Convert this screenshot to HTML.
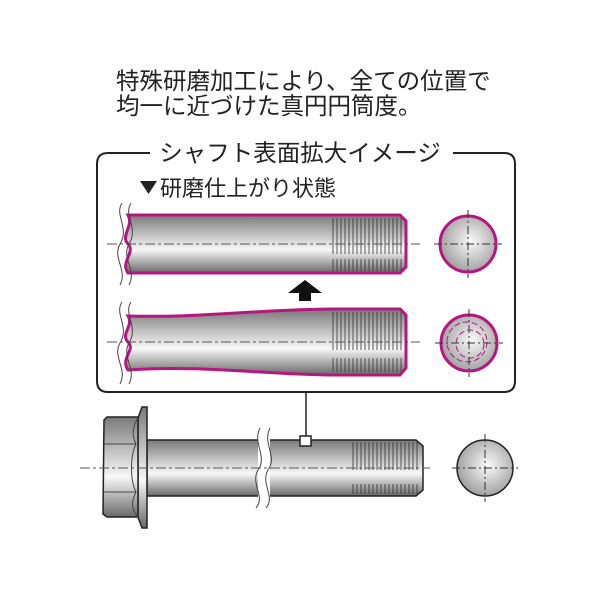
<!DOCTYPE html>
<html><head><meta charset="utf-8"><style>
html,body{margin:0;padding:0;background:#fff;width:600px;height:600px;overflow:hidden}
</style></head><body>
<svg width="600" height="600" viewBox="0 0 600 600" xmlns="http://www.w3.org/2000/svg">
<defs>
<linearGradient id="g" x1="0" y1="0" x2="0" y2="1">
<stop offset="0" stop-color="#7a7a7a"/><stop offset="0.6" stop-color="#f8f8f8"/><stop offset="1" stop-color="#686868"/>
</linearGradient>
<radialGradient id="rg" cx="0.55" cy="0.45" r="0.6">
<stop offset="0" stop-color="#fafafa"/><stop offset="1" stop-color="#9a9a9a"/>
</radialGradient>
</defs>
<g font-family="Liberation Sans, Noto Sans CJK JP, sans-serif" fill="#222">
<text x="116" y="89" font-size="23.5">特殊研磨加工により、全ての位置で</text>
<text x="116" y="114" font-size="23.5">均一に近づけた真円円筒度。</text>
</g>
<!-- frame -->
<path d="M150,153 H108 Q97,153 97,164 V381 Q97,392 108,392 H504 Q515,392 515,381 V164 Q515,153 504,153 H453" fill="none" stroke="#222" stroke-width="2"/>
<text x="300" y="161" font-size="23.5" text-anchor="middle" font-family="Liberation Sans, Noto Sans CJK JP, sans-serif" fill="#222">シャフト表面拡大イメージ</text>
<path d="M140,181 H157 L148.5,194 Z" fill="#222"/>
<text x="160" y="196" font-size="22" font-family="Liberation Sans, Noto Sans CJK JP, sans-serif" fill="#222">研磨仕上がり状態</text>

<!-- upper shaft -->
<path d="M128,215 H400 L406,221 V267 L400,273 H128 C120,262 136,252 128,244 C120,236 134,226 128,215 Z" fill="url(#g)" stroke="#b5177f" stroke-width="3"/>
<g stroke="#333" stroke-width="0.8">
<path d="M333,218 V254 M337,218 V254 M341,218 V254 M345,218 V254 M349,218 V254 M353,218 V254 M357,218 V254 M361,218 V254 M365,218 V254 M369,218 V254 M373,218 V254 M377,218 V254 M381,218 V254 M385,218 V254 M389,218 V254 M393,218 V254 M397,218 V254 M401,218 V254"/>
<path d="M333,259 V271 M337,259 V271 M341,259 V271 M345,259 V271 M349,259 V271 M353,259 V271 M357,259 V271 M361,259 V271 M365,259 V271 M369,259 V271 M373,259 V271 M377,259 V271 M381,259 V271 M385,259 V271 M389,259 V271 M393,259 V271 M397,259 V271 M401,259 V271"/>
</g>
<path d="M122,203 C114,215 130,228 120,244 C112,258 128,270 120,285 M131,203 C123,215 139,228 129,244 C121,258 137,270 129,285" fill="none" stroke="#444" stroke-width="1"/>
<line x1="107" y1="244" x2="420" y2="244" stroke="#555" stroke-width="1" stroke-dasharray="10,3,3,3"/>
<circle cx="468" cy="244" r="28" fill="url(#rg)" stroke="#b5177f" stroke-width="3"/>
<path d="M434,244 H502 M468,210 V278" stroke="#333" stroke-width="1" stroke-dasharray="8,3,2,3"/>

<!-- arrow -->
<path d="M305,280 L322,293 H311 V301 H299 V293 H288 Z" fill="#111"/>

<!-- lower shaft -->
<path d="M128,316 C200,318 250,310 330,309 H400 L406,315 V368 L400,375 H330 C260,374 200,365 128,370 C120,358 136,350 128,342 C120,334 134,326 128,316 Z" fill="url(#g)" stroke="#b5177f" stroke-width="3"/>
<g stroke="#333" stroke-width="0.8">
<path d="M333,312 V350 M337,312 V350 M341,312 V350 M345,312 V350 M349,312 V350 M353,312 V350 M357,312 V350 M361,312 V350 M365,312 V350 M369,312 V350 M373,312 V350 M377,312 V350 M381,312 V350 M385,312 V350 M389,312 V350 M393,312 V350 M397,312 V350 M401,312 V350"/>
<path d="M333,358 V372 M337,358 V372 M341,358 V372 M345,358 V372 M349,358 V372 M353,358 V372 M357,358 V372 M361,358 V372 M365,358 V372 M369,358 V372 M373,358 V372 M377,358 V372 M381,358 V372 M385,358 V372 M389,358 V372 M393,358 V372 M397,358 V372 M401,358 V372"/>
</g>
<path d="M122,302 C114,314 130,327 120,343 C112,357 128,369 120,384 M131,302 C123,314 139,327 129,343 C121,357 137,369 129,384" fill="none" stroke="#444" stroke-width="1"/>
<line x1="107" y1="342" x2="420" y2="342" stroke="#555" stroke-width="1" stroke-dasharray="10,3,3,3"/>
<circle cx="469" cy="343" r="28" fill="url(#rg)" stroke="#b5177f" stroke-width="3"/>
<circle cx="467" cy="342" r="20" fill="none" stroke="#b5177f" stroke-width="1" stroke-dasharray="6,3"/>
<circle cx="470" cy="344" r="14" fill="none" stroke="#b5177f" stroke-width="1" stroke-dasharray="6,3"/>
<path d="M435,343 H503 M469,309 V377" stroke="#333" stroke-width="1" stroke-dasharray="8,3,2,3"/>

<!-- connector -->
<line x1="306" y1="392" x2="306" y2="436" stroke="#222" stroke-width="1.5"/>

<!-- bolt -->
<path d="M147,440 H416 L423,446 V490 L416,496 H147 Z" fill="url(#g)" stroke="#222" stroke-width="1.5"/>
<rect x="258" y="430" width="12" height="76" fill="#fff"/>
<path d="M260,428 C252,444 268,456 258,470 C250,484 266,496 256,508 M270,428 C262,444 278,456 268,470 C260,484 276,496 266,508" fill="none" stroke="#444" stroke-width="1"/>
<g stroke="#333" stroke-width="0.8">
<path d="M353,442 V470 M357,442 V470 M361,442 V470 M365,442 V470 M369,442 V470 M373,442 V470 M377,442 V470 M381,442 V470 M385,442 V470 M389,442 V470 M393,442 V470 M397,442 V470 M401,442 V470 M405,442 V470 M409,442 V470 M413,442 V470 M417,442 V470"/>
<path d="M353,484 V494 M357,484 V494 M361,484 V494 M365,484 V494 M369,484 V494 M373,484 V494 M377,484 V494 M381,484 V494 M385,484 V494 M389,484 V494 M393,484 V494 M397,484 V494 M401,484 V494 M405,484 V494 M409,484 V494 M413,484 V494 M417,484 V494"/>
</g>
<!-- flange -->
<path d="M138,418 L142,407 H147 V528 H142 L138,517 Z" fill="url(#g)" stroke="#222" stroke-width="1.5"/>
<!-- hex -->
<path d="M104,420 L107,417 H138 V517 H107 L103,514 Z" fill="url(#g)" stroke="#222" stroke-width="1.5"/>
<path d="M104,444 H136 M104,492 H136" stroke="#444" stroke-width="1"/>
<path d="M138,418 C130,430 134,440 136,444 C130,456 130,480 136,492 C132,500 130,508 138,517" fill="none" stroke="#444" stroke-width="1"/>
<line x1="80" y1="468" x2="430" y2="468" stroke="#555" stroke-width="1" stroke-dasharray="10,3,3,3"/>
<rect x="300" y="436" width="11" height="10" fill="#fff" stroke="#222" stroke-width="1.5"/>
<circle cx="485" cy="468" r="28" fill="url(#rg)" stroke="#222" stroke-width="1.5"/>
<path d="M452,468 H518 M485,434 V502" stroke="#333" stroke-width="1" stroke-dasharray="8,3,2,3"/>
</svg>
</body></html>
